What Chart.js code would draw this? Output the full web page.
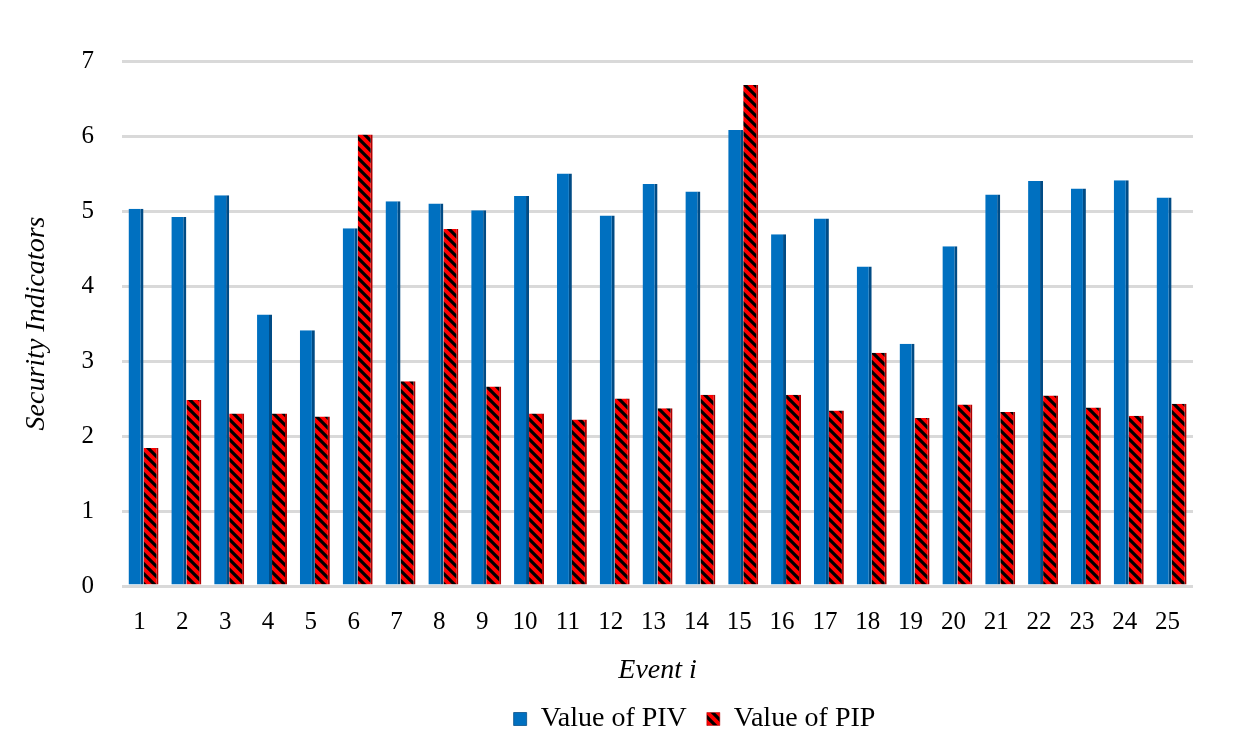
<!DOCTYPE html>
<html>
<head>
<meta charset="utf-8">
<script src="https://cdn.jsdelivr.net/npm/chart.js@4/dist/chart.umd.min.js"></script>
<style>
  html, body { margin: 0; padding: 0; background: #fff; }
  #wrap { width: 1247px; height: 752px; }
</style>
</head>
<body>
<div id="wrap"><canvas id="myChart"></canvas></div>
<script>
const events = ['1','2','3','4','5','6','7','8','9','10','11','12','13','14','15','16','17','18','19','20','21','22','23','24','25'];
const piv = [5.03, 4.92, 5.21, 3.62, 3.41, 4.77, 5.13, 5.10, 5.01, 5.20, 5.50, 4.94, 5.36, 5.26, 6.08, 4.69, 4.90, 4.26, 3.23, 4.53, 5.22, 5.40, 5.30, 5.41, 5.18];
const pip = [1.84, 2.48, 2.30, 2.30, 2.26, 6.02, 2.73, 4.76, 2.66, 2.30, 2.22, 2.50, 2.37, 2.55, 6.68, 2.55, 2.34, 3.11, 2.24, 2.42, 2.32, 2.54, 2.38, 2.27, 2.43];
const yTicks = [0, 1, 2, 3, 4, 5, 6, 7];

// red with black "\" stripes
function stripes() {
  const s = 10;
  const c = document.createElement('canvas');
  c.width = s; c.height = s;
  const g = c.getContext('2d');
  g.fillStyle = '#ff0000';
  g.fillRect(0, 0, s, s);
  g.strokeStyle = '#000';
  g.lineWidth = 3.2;
  g.beginPath();
  g.moveTo(-2, -2); g.lineTo(s + 2, s + 2);
  g.moveTo(-2, s - 2); g.lineTo(2, s + 2);
  g.moveTo(s - 2, -2); g.lineTo(s + 2, 2);
  g.stroke();
  return g.createPattern(c, 'repeat');
}

// legend sits a bit right of centre in the original
const legendShift = {
  id: 'legendShift',
  afterLayout(chart) {
    chart.legend.left += 88;
    chart.legend.right += 88;
  }
};

const ctx = document.getElementById('myChart');
const serif = '"Liberation Serif", "Times New Roman", serif';

new Chart(ctx, {
  type: 'bar',
  data: {
    labels: events,
    datasets: [
      {
        label: 'Value of PIV',
        data: piv,
        backgroundColor: '#0070c0',
        borderColor: '#004b85',
        borderWidth: { right: 3, top: 0, left: 0, bottom: 0 },
        borderSkipped: false
      },
      {
        label: 'Value of PIP',
        data: pip,
        backgroundColor: stripes(),
        borderColor: '#b00000',
        borderWidth: { right: 2, top: 0, left: 0, bottom: 0 },
        borderSkipped: false
      }
    ]
  },
  plugins: [legendShift],
  options: {
    responsive: true,
    maintainAspectRatio: false,
    animation: false,
    layout: { padding: { left: 20, right: 54, top: 61, bottom: 9 } },
    categoryPercentage: 0.7,
    barPercentage: 1.0,
    plugins: {
      legend: {
        position: 'bottom',
        labels: {
          font: { family: serif, size: 28 },
          color: '#000',
          boxWidth: 13,
          boxHeight: 13,
          padding: 20
        }
      },
      tooltip: { enabled: false }
    },
    scales: {
      x: {
        grid: { display: false },
        border: { display: false },
        ticks: { font: { family: serif, size: 25 }, color: '#000', padding: 13, labelOffset: -4 },
        title: { display: true, text: 'Event i', font: { family: serif, size: 28, style: 'italic', lineHeight: 1 }, color: '#000', padding: { top: 7, bottom: 0 } }
      },
      y: {
        min: 0,
        max: 7,
        afterBuildTicks: axis => { axis.ticks = yTicks.map(v => ({ value: v })); },
        grid: { color: '#d9d9d9', lineWidth: 3, drawTicks: false },
        border: { display: false },
        ticks: { font: { family: serif, size: 25 }, color: '#000', padding: 28 },
        title: { display: true, text: 'Security Indicators', font: { family: serif, size: 28, style: 'italic' }, color: '#000', padding: { top: 0, bottom: 0 } }
      }
    }
  }
});
</script>
</body>
</html>
